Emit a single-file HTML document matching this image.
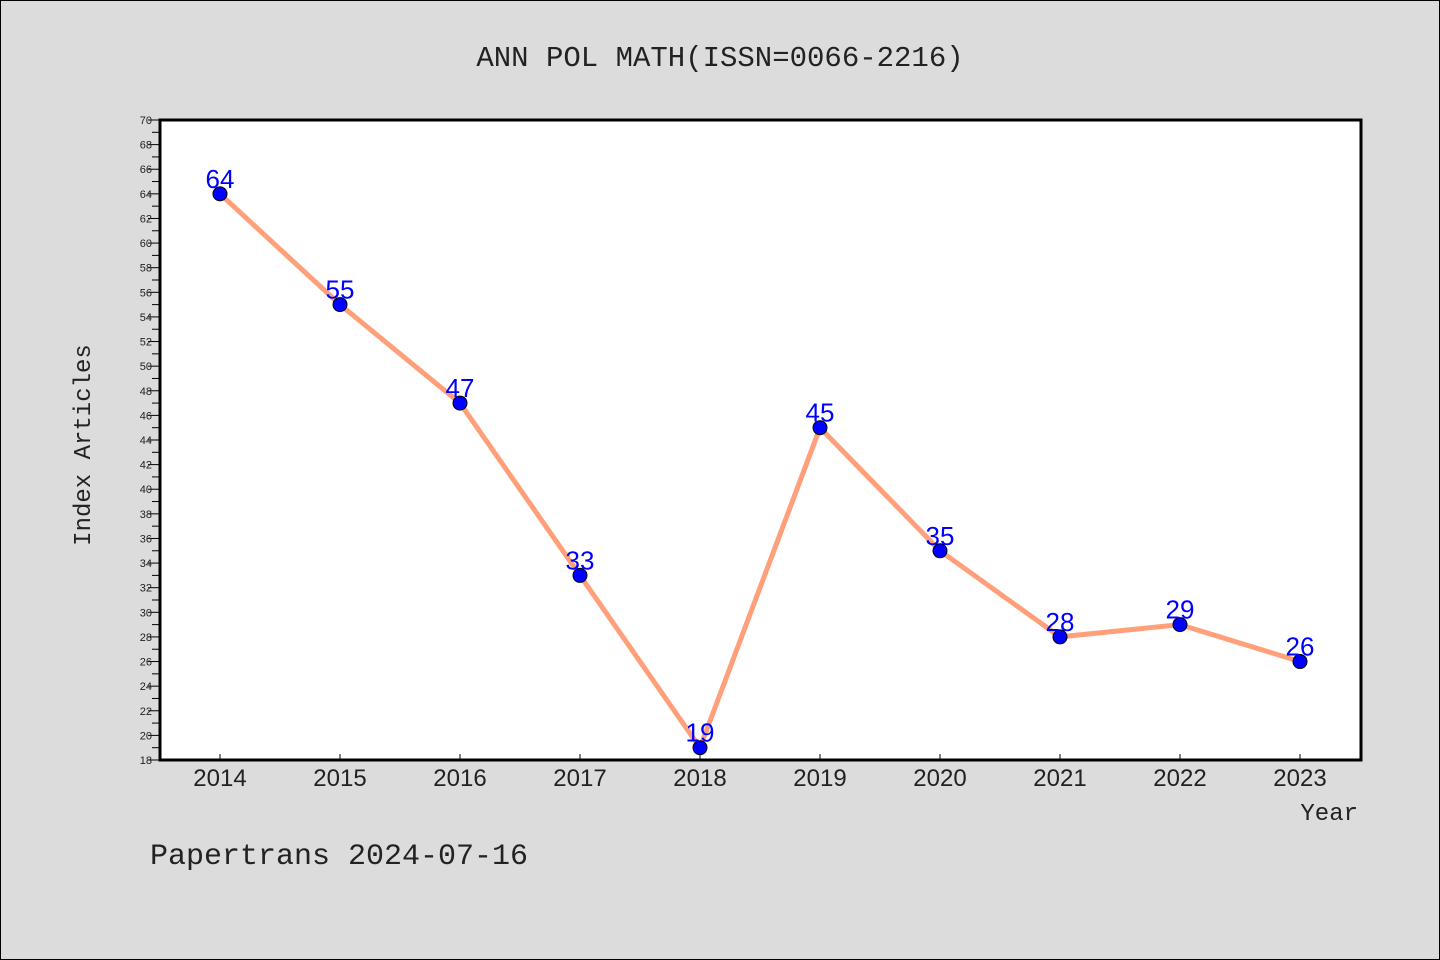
<!DOCTYPE html>
<html><head><meta charset="utf-8"><style>
body{margin:0;background:#dcdcdc;}
svg{display:block;font-family:"Liberation Mono","DejaVu Sans Mono",monospace;}
</style></head><body>
<svg width="1440" height="960">
<rect x="0.5" y="0.5" width="1439" height="959" fill="#dcdcdc" stroke="#000"/>
<text x="720" y="66" text-anchor="middle" font-size="29" fill="#222">ANN POL MATH(ISSN=0066-2216)</text>
<rect x="160" y="120" width="1201" height="640" fill="#fff" stroke="#000" stroke-width="3"/>
<g id="yaxis"></g>
<g id="xaxis"></g>
<g id="series"></g>
<text x="90" y="445" transform="rotate(-90 90 445)" text-anchor="middle" font-size="24" fill="#222">Index Articles</text>
<text x="1358" y="820" text-anchor="end" font-size="24" fill="#222">Year</text>
<text x="150" y="864" font-size="30" fill="#222">Papertrans 2024-07-16</text>
</svg>
<script>
const years=[2014,2015,2016,2017,2018,2019,2020,2021,2022,2023];
const values=[64,55,47,33,19,45,35,28,29,26];
const yMin=18,yMax=70;
const NS='http://www.w3.org/2000/svg';
const X=i=>220+i*120;
const Y=v=>760-(v-yMin)*640/(yMax-yMin);
function mk(t,a,p){const e=document.createElementNS(NS,t);for(const k in a)e.setAttribute(k,a[k]);p.appendChild(e);return e;}
const ya=document.getElementById('yaxis'),xa=document.getElementById('xaxis'),sr=document.getElementById('series');
for(let v=yMin;v<=yMax;v++){
  const major=v%2===0;
  const l=mk('line',{x1:major?148:152,x2:160,y1:Y(v),y2:Y(v),stroke:'#000','stroke-width':1},ya);
  
  
  if(major){const t=mk('text',{x:152,y:Y(v)+4,'text-anchor':'end','font-size':11,fill:'#222','font-family':'Liberation Sans, sans-serif'},ya);t.textContent=v;
    
    }
}
years.forEach((yr,i)=>{
  const l=mk('line',{x1:X(i),x2:X(i),y1:754,y2:760,stroke:'#000'},xa);
  
  
  const t=mk('text',{x:X(i),y:786,'text-anchor':'middle','font-size':24,fill:'#222','font-family':'Liberation Sans, sans-serif'},xa);t.textContent=yr;
  
  
});
const line=mk('polyline',{points:values.map((v,i)=>X(i)+','+Y(v)).join(' '),fill:'none',stroke:'#ffa07a','stroke-width':5},sr);


values.forEach((v,i)=>{
  const c=mk('circle',{cx:X(i),cy:Y(v),r:7,fill:'#0000ff',stroke:'#000','stroke-width':1},sr);
  
  
  const t=mk('text',{x:X(i),y:Y(v)-6,'text-anchor':'middle','font-size':26,fill:'#0000ff','font-family':'Liberation Sans, sans-serif'},sr);t.textContent=v;
  
  
});
</script>
</body></html>
